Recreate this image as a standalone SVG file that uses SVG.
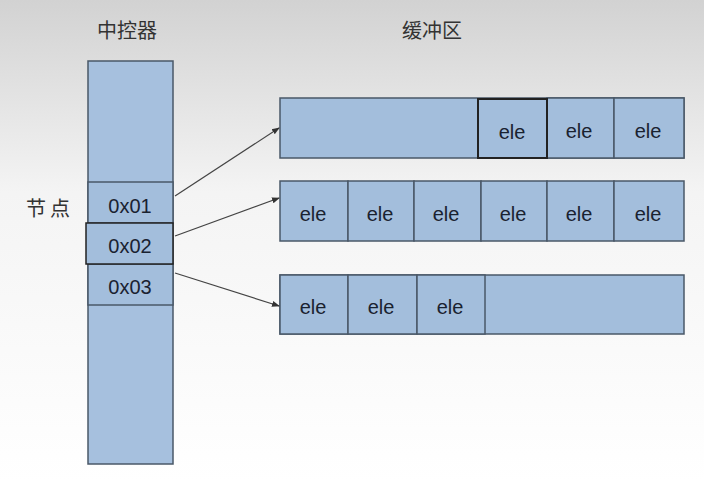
<svg xmlns="http://www.w3.org/2000/svg" width="704" height="482" viewBox="0 0 704 482">
<defs>
<linearGradient id="bg" x1="0" y1="0" x2="0" y2="1">
<stop offset="0" stop-color="#d2d2d2"/>
<stop offset="0.4" stop-color="#f4f4f4"/>
<stop offset="1" stop-color="#ffffff"/>
</linearGradient>
<marker id="ah" markerWidth="8" markerHeight="8" refX="7" refY="4" orient="auto" markerUnits="userSpaceOnUse">
<path d="M0,1 L8,4 L0,7 Z" fill="#333"/>
</marker>
<style>
.cell{fill:#a3bedc;stroke:#4a5868;stroke-width:1.5}
.hl{fill:#a3bedc;stroke:#222;stroke-width:2}
.t{font-family:"Liberation Sans",Arial,sans-serif;font-size:20px;fill:#1a2230;text-anchor:middle}
.lbl{font-family:"Noto Sans CJK SC","Liberation Sans",sans-serif;font-size:20px;fill:#333;text-anchor:middle}
.conn{stroke:#444;stroke-width:1.2;fill:none}
</style>
</defs>
<rect width="704" height="482" fill="url(#bg)"/>
<text class="lbl" x="127" y="38">中控器</text>
<text class="lbl" x="432" y="38">缓冲区</text>
<text class="lbl" x="50" y="216" style="letter-spacing:4px">节点</text>
<g id="controller">
<rect class="cell" x="88" y="61" width="85" height="403" style="fill:#a6c0de"/>
</g>
<g id="node01"><rect class="cell" x="88" y="182" width="85" height="41"/><text class="t" x="130" y="213">0x01</text></g>
<g id="node03"><rect class="cell" x="88" y="264" width="85" height="41"/><text class="t" x="130" y="294">0x03</text></g>
<g id="node02"><rect class="cell" x="86" y="223" width="87" height="41" style="stroke:#222"/><text class="t" x="130" y="253">0x02</text></g>
<g id="buffer1">
<rect class="cell" x="280" y="98" width="404" height="60"/>
<rect class="cell" x="547" y="98" width="67" height="60"/>
<rect class="cell" x="614" y="98" width="70" height="60"/>
<rect class="hl" x="478" y="99" width="69" height="59"/>
<text class="t" x="512" y="139">ele</text>
<text class="t" x="579" y="138">ele</text>
<text class="t" x="648" y="138">ele</text>
</g>
<g id="buffer2">
<rect class="cell" x="280" y="181" width="68" height="60"/>
<rect class="cell" x="348" y="181" width="66" height="60"/>
<rect class="cell" x="414" y="181" width="67" height="60"/>
<rect class="cell" x="481" y="181" width="66" height="60"/>
<rect class="cell" x="547" y="181" width="67" height="60"/>
<rect class="cell" x="614" y="181" width="70" height="60"/>
<text class="t" x="313" y="221">ele</text>
<text class="t" x="380" y="221">ele</text>
<text class="t" x="446" y="221">ele</text>
<text class="t" x="513" y="221">ele</text>
<text class="t" x="579" y="221">ele</text>
<text class="t" x="648" y="221">ele</text>
</g>
<g id="buffer3">
<rect class="cell" x="280" y="275" width="404" height="59"/>
<rect class="cell" x="280" y="275" width="68" height="59"/>
<rect class="cell" x="348" y="275" width="69" height="59"/>
<rect class="cell" x="417" y="275" width="68" height="59"/>
<text class="t" x="313" y="314">ele</text>
<text class="t" x="381" y="314">ele</text>
<text class="t" x="450" y="314">ele</text>
</g>
<g id="connectors">
<line class="conn" x1="175" y1="196" x2="279" y2="128" marker-end="url(#ah)"/>
<line class="conn" x1="175" y1="236" x2="279" y2="198" marker-end="url(#ah)"/>
<line class="conn" x1="175" y1="273" x2="279" y2="306" marker-end="url(#ah)"/>
</g>
</svg>
